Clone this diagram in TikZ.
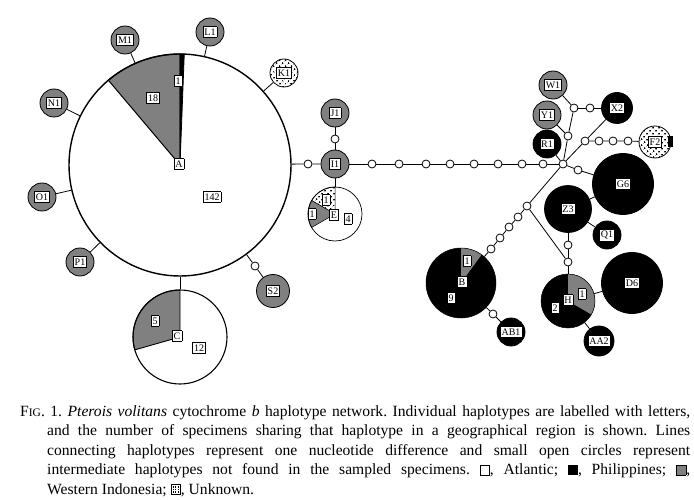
\documentclass[tikz,border=0pt]{standalone}
\usepackage{fontspec}
\setmainfont{Liberation Serif}
\usetikzlibrary{patterns.meta,backgrounds}
\definecolor{wgrey}{RGB}{128,128,128}
\tikzdeclarepattern{
  name=sdots,
  type=uncolored,
  bounding box={(-2pt,-2pt) and (2pt,2pt)},
  tile size={(4pt,4pt)},
  tile transformation={rotate=45},
  code={\fill (0pt,0pt) circle (1.05pt);}
}
\newcommand\lb[1]{{\setlength\fboxsep{1.2pt}\setlength\fboxrule{0.4pt}\fcolorbox{black}{white}{\rule[-0.5pt]{0pt}{8pt}#1}}}
\newcommand\wsq{{\setlength\fboxsep{0pt}\setlength\fboxrule{0.6pt}\fbox{\rule{0pt}{9pt}\hspace{9pt}}}}
\newcommand\bsq{\rule{10pt}{10pt}}
\newcommand\gsq{{\setlength\fboxsep{0pt}\setlength\fboxrule{0.6pt}\fcolorbox{black}{wgrey}{\rule{0pt}{9pt}\hspace{9pt}}}}
\newcommand\dotrow{\hbox to 9pt{\hss\rule{1.3pt}{1.3pt}\hss\rule{1.3pt}{1.3pt}\hss\rule{1.3pt}{1.3pt}\hss}}
\newcommand\dsq{{\setlength\fboxsep{0pt}\setlength\fboxrule{0.6pt}\fbox{\vbox to 9pt{\offinterlineskip\vss\dotrow\vss\dotrow\vss\dotrow\vss}}}}
\tikzset{
  every node/.style={font=\fontsize{10}{10}\selectfont},
  sc/.style={circle, draw, fill=white, inner sep=0pt, minimum size=8pt, line width=0.8pt},
  hap/.style={circle, draw, inner sep=0pt, line width=0.8pt, minimum size=28pt},
  ghap/.style={hap, fill=wgrey},
  bhap/.style={hap, fill=black},
  dhap/.style={hap, pattern=sdots},
  pie/.style={circle, draw, inner sep=0pt},
  edge/.style={line width=0.8pt},
  lab/.style={inner sep=0pt}
}
\begin{document}
\begin{tikzpicture}[x=1pt,y=1pt]
\useasboundingbox (0,0) rectangle (694,-500);
% ---- pie sectors ----
\filldraw[fill=wgrey, line width=1pt] (180,-165) -- +(90:111) arc[start angle=90, end angle=130.2, radius=111] -- cycle;
\filldraw[fill=black, line width=0.8pt] (180,-165) -- +(87.8:111) arc[start angle=87.8, end angle=90, radius=111] -- cycle;
\filldraw[fill=wgrey, line width=0.9pt] (180,-337) -- +(90:47) arc[start angle=90, end angle=195.9, radius=47] -- cycle;
\filldraw[pattern=sdots, line width=0.5pt] (335,-214) -- +(90:27) arc[start angle=90, end angle=150, radius=27] -- cycle;
\filldraw[fill=wgrey, line width=0.5pt] (335,-214) -- +(150:27) arc[start angle=150, end angle=210, radius=27] -- cycle;
\fill[black] (461,-283) circle (35);
\fill[wgrey] (461,-283) -- +(54:35) arc[start angle=54, end angle=90, radius=35] -- cycle;
\fill[black] (568,-301) circle (27);
\fill[wgrey] (568,-301) -- +(-30:27) arc[start angle=-30, end angle=90, radius=27] -- cycle;
\fill[black] (668,-136.5) rectangle (673,-147.5);
% ---- pie nodes ----
\node[pie, minimum size=222pt, line width=1.4pt] (A) at (180,-165) {};
\node[pie, minimum size=94pt, line width=1.1pt] (C) at (180,-337) {};
\node[pie, minimum size=54pt, line width=0.7pt] (E) at (335,-214) {};
\node[pie, minimum size=70pt, line width=0.5pt] (B) at (461,-283) {};
\node[pie, minimum size=54pt, line width=0.5pt] (H) at (568,-301) {};
% pie labels
\node[lab] (lA1) at (178,-81) {\lb{1}};
\node[lab] (lA18) at (153,-98) {\lb{18}};
\node[lab] (lA) at (179,-164) {\lb{A}};
\node[lab] (lA142) at (212,-197) {\lb{142}};
\node[lab] (lC5) at (155,-321) {\lb{5}};
\node[lab] (lC) at (177,-336) {\lb{C}};
\node[lab] (lC12) at (199,-348) {\lb{12}};
\node[lab] (lEd) at (326,-200) {\lb{1}};
\node[lab] (lEg) at (312,-214) {\lb{1}};
\node[lab] (lE) at (334,-215) {\lb{E}};
\node[lab] (lE4) at (348,-219) {\lb{4}};
\node[lab] (lB1) at (467,-261) {\lb{1}};
\node[lab] (lB) at (462,-282) {\lb{B}};
\node[lab] (lB9) at (451,-298) {\lb{9}};
\node[lab] (lH1) at (582,-294) {\lb{1}};
\node[lab] (lH) at (568,-300) {\lb{H}};
\node[lab] (lH2) at (555,-308) {\lb{2}};
% ---- haplotype nodes ----
\node[ghap] (L1) at (210,-32) {\lb{L1}};
\node[ghap] (M1) at (125,-40) {\lb{M1}};
\node[ghap] (N1) at (54,-103) {\lb{N1}};
\node[ghap] (O1) at (42,-197) {\lb{O1}};
\node[ghap] (P1) at (80,-262) {\lb{P1}};
\node[dhap] (K1) at (284,-73) {\lb{K1}};
\node[sc] (s2s) at (255,-266) {};
\node[ghap, minimum size=33pt] (S2) at (273,-291) {\lb{S2}};
\node[sc] (i1s) at (308,-164) {};
\node[ghap] (I1) at (335,-164) {\lb{I1}};
\node[sc] (j1s) at (335,-139) {};
\node[ghap] (J1) at (335,-113) {\lb{J1}};
\foreach \x [count=\i] in {372,399,426,450,474,498,522,543}
  \node[sc] (c\i) at (\x,-164) {};
\node[sc] (hub) at (563,-164) {};
\node[bhap] (R1) at (547,-144) {\lb{R1}};
\node[sc] (y1s) at (568,-136) {};
\node[ghap] (Y1) at (547,-115) {\lb{Y1}};
\node[sc] (jn) at (574,-108) {};
\node[ghap] (W1) at (553,-85) {\lb{W1}};
\node[sc] (xs) at (590,-108) {};
\node[bhap, minimum size=31pt] (X2) at (617,-108) {\lb{X2}};
\node[sc] (fs) at (585,-141) {};
\node[sc] (f1) at (599,-141) {};
\node[sc] (f2) at (613,-141) {};
\node[sc] (f3) at (628,-141) {};
\node[dhap, minimum size=32pt] (F2) at (655,-142) {\lb{F2}};
\node[sc] (g6s) at (578,-170) {};
\node[bhap, minimum size=61pt] (G6) at (623,-184) {\lb{G6}};
\node[bhap, minimum size=47pt] (Z3) at (568,-209) {\lb{Z3}};
\node[bhap] (Q1) at (607,-235) {\lb{Q1}};
\node[sc] (zs1) at (568,-245) {};
\node[sc] (zs2) at (568,-262) {};
\node[sc] (bs0) at (527,-206) {};
\node[sc] (bs1) at (518,-217) {};
\node[sc] (bs2) at (509,-227) {};
\node[sc] (bs3) at (500,-238) {};
\node[sc] (bs4) at (491,-249) {};
\node[sc] (abs) at (493,-314) {};
\node[bhap] (AB1) at (511,-332) {\lb{AB1}};
\node[bhap, minimum size=61pt] (D6) at (632,-283) {\lb{D6}};
\node[bhap, minimum size=30pt] (AA2) at (599,-341) {\lb{AA2}};
% ---- edges ----
\begin{scope}[on background layer]
\draw[edge] (A) -- (L1);
\draw[edge] (A) -- (M1);
\draw[edge] (A) -- (N1);
\draw[edge] (A) -- (O1);
\draw[edge] (A) -- (P1);
\draw[edge] (A) -- (K1);
\draw[edge] (A) -- (s2s) -- (S2);
\draw[edge] (A) -- (C);
\draw[edge] (A) -- (i1s) -- (I1);
\draw[edge] (I1) -- (j1s) -- (J1);
\draw[edge] (I1) -- (E);
\draw[edge] (I1) -- (c1) -- (c2) -- (c3) -- (c4) -- (c5) -- (c6) -- (c7) -- (c8) -- (hub);
\draw[edge] (hub) -- (R1);
\draw[edge] (hub) -- (y1s) -- (jn);
\draw[edge] (y1s) -- (Y1);
\draw[edge] (jn) -- (W1);
\draw[edge] (jn) -- (xs) -- (X2);
\draw[edge] (hub) -- (fs) -- (X2);
\draw[edge] (fs) -- (f1) -- (f2) -- (f3) -- (F2);
\draw[edge] (hub) -- (g6s) -- (G6);
\draw[edge] (G6) -- (Z3);
\draw[edge] (Z3) -- (Q1);
\draw[edge] (Z3) -- (zs1) -- (zs2) -- (H);
\draw[edge] (hub) -- (bs0) -- (bs1) -- (bs2) -- (bs3) -- (bs4) -- (B);
\draw[edge] (bs0) -- (zs2);
\draw[edge] (B) -- (abs) -- (AB1);
\draw[edge] (H) -- (D6);
\draw[edge] (H) -- (AA2);
\end{scope}
% ---- caption ----
\node[anchor=north west, inner sep=0pt] (cap) at (20,-405)
{\begin{minipage}[t]{670pt}\fontsize{15.6}{19.5}\selectfont\frenchspacing\setlength\parindent{0pt}\hangindent=27pt\hangafter=1 F{\fontsize{11.5}{10}\selectfont IG}. 1. \textit{Pterois volitans} cytochrome \textit{b} haplotype network. Individual haplotypes are labelled with letters,\linebreak and the number of specimens sharing that haplotype in a geographical region is shown. Lines\linebreak connecting haplotypes represent one nucleotide difference and small open circles represent\linebreak intermediate haplotypes not found in the sampled specimens. \wsq, Atlantic; \bsq, Philippines; \gsq,\linebreak Western Indonesia; \dsq, Unknown.\end{minipage}};
\end{tikzpicture}
\end{document}
